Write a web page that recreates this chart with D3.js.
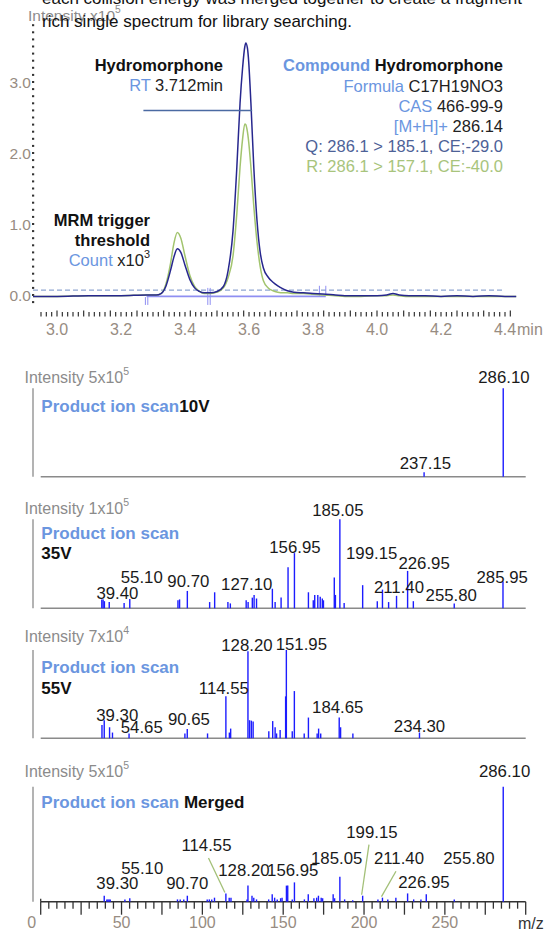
<!DOCTYPE html>
<html><head><meta charset="utf-8">
<script src="https://cdn.jsdelivr.net/npm/d3@7"></script>
<style>
html,body{margin:0;padding:0;background:#fff;}
svg{display:block;font-family:"Liberation Sans",Arial,Helvetica,sans-serif;}
</style></head><body>
<svg id="chart" width="546" height="930"></svg>
<script>
// ================= DATA =================
const introLines = [
  "each collision energy was merged together to create a fragment",
  "rich single spectrum for library searching."
];

// Chromatogram (retention time in min, intensity x10^5)
const chromTime = [2.925,3.0,3.1,3.2,3.28,3.31,3.325,3.34,3.355,3.365,3.376,3.387,3.40,3.415,3.43,3.445,3.46,3.48,3.50,3.52,3.535,3.55,3.562,3.572,3.58,3.587,3.59,3.595,3.598,3.606,3.615,3.625,3.635,3.645,3.66,3.675,3.69,3.705,3.72,3.74,3.77,3.80,3.83,3.87,3.90,3.95,4.00,4.03,4.05,4.07,4.10,4.15,4.20,4.25,4.30,4.35,4.40,4.435];
const chromQ = [-0.02,-0.02,-0.01,-0.01,0.0,0.0,0.02,0.12,0.35,0.53,0.65,0.60,0.42,0.22,0.10,0.05,0.03,0.03,0.05,0.12,0.35,0.90,1.80,2.70,3.20,3.50,3.55,3.48,3.35,2.70,1.80,1.05,0.60,0.38,0.25,0.18,0.13,0.09,0.06,0.04,0.03,0.02,0.015,0.0,-0.01,-0.01,-0.01,0.0,0.02,0.0,-0.01,-0.01,-0.02,-0.01,-0.02,-0.01,-0.02,-0.02];
const chromR = [-0.02,-0.02,-0.01,-0.01,0.0,0.0,0.02,0.15,0.45,0.72,0.88,0.80,0.55,0.28,0.12,0.05,0.02,0.02,0.04,0.10,0.25,0.55,1.15,1.80,2.20,2.41,2.40,2.30,2.20,1.80,1.25,0.75,0.40,0.20,0.10,0.06,0.04,0.03,0.03,0.02,0.02,0.01,0.0,-0.01,-0.02,-0.02,-0.01,-0.01,0.0,-0.01,-0.02,-0.02,-0.02,-0.02,-0.02,-0.02,-0.02,-0.02];
const chromYLabels = [0, 1, 2, 3];
const chromXLabels = [3.0, 3.2, 3.4, 3.6, 3.8, 4.0, 4.2, 4.4];
const thresholdValue = 0.07;
const integrationStart = 3.28, integrationEnd = 3.84;
const markerTimes = [3.28, 3.475, 3.82, 3.84];
const rtLine = [3.27, 3.61, 2.6];   // start time, end time, level

// Product ion spectra (m/z, relative intensity %)
const mz10V  = [237.15, 286.10];
const int10V = [5, 100];
const lab10V = [286.10, 237.15];

const mz35V  = [37.8,38.6,39.4,42.4,51.6,55.1,84.9,85.9,90.7,104.5,107.6,115.8,117.3,127.1,128.3,130.9,132.0,133.5,143.3,145.0,148.7,153.0,156.95,165.6,168.6,169.5,171.4,172.9,174.2,174.9,181.6,182.3,185.05,187.7,199.15,208.2,211.40,215.2,220.1,226.95,230.5,255.80,285.95];
const int35V = [10,10,8,7,6,10.5,9,10,19.5,7,18,7,5.5,9,7,12,15,11,22,7,12,46,62,18,9,15,15,13,11,9,34.5,15,100,6,26,8,21,7,14,42,8,5.5,30];
const lab35V = [39.40,55.10,90.70,127.10,156.95,185.05,199.15,211.40,226.95,255.80,285.95];

const mz55V  = [37.9,39.3,42.6,44.4,54.65,89.2,90.65,103.2,114.55,116.7,117.5,128.20,129.2,130.3,131.4,141.1,143.5,145.0,145.9,148.1,151.5,151.95,155.6,156.9,163.0,165.6,171.0,171.9,173.2,184.65,185.5,193.1,234.30];
const int55V = [15,20.5,12.5,6.5,5.5,5.5,10.5,5.5,47.5,6.5,11,98.5,20.5,20,19,8,19.5,12.5,5.5,9.5,47.5,100,8,53.5,5.5,23.5,5.5,11,5.5,23.5,12.5,5.5,6.5];
const lab55V = [128.20,151.95,114.55,39.30,54.65,90.65,184.65,234.30];

const mzMerged  = [39.30,40.9,41.6,42.3,43.0,52.1,55.10,84.6,86.3,88.5,90.70,103.0,104.3,105.8,107.5,114.55,116.6,117.7,127.6,128.20,130.7,131.8,133.5,141.0,143.2,144.7,146.3,148.4,149.3,152.0,152.8,155.6,156.95,163.1,165.5,169.0,170.7,171.8,173.5,174.4,180.9,181.8,185.05,188.0,193.0,199.15,208.6,211.40,214.7,219.7,226.95,230.7,235.2,238.5,255.80,286.10];
const intMerged = [5.2,2,2,2,2,2,3,2,2,2,5.2,2,2,2,3.5,7.2,3.5,3.5,2,14,5.2,3.5,2,2,6.4,3.5,2,3,3.5,14,14,2,16.8,2,6.4,3,3.5,5.2,3.5,3,6.4,3,21.7,2,1.2,5.2,2,3.5,2,3.5,7.2,2,2,6.4,2,100];
const labMerged = [286.10,199.15,114.55,185.05,211.40,255.80,55.10,128.20,156.95,39.30,90.70,226.95];
const leaderMerged = [114.55, 199.15, 211.40];
const mzAxisLabels = [0, 50, 100, 150, 200, 250];

// ================= LAYOUT (pixels) =================
const FONT = '"Liberation Sans", Arial, Helvetica, sans-serif';
const LB = "#6b96df";
const TICKTXT = "#978c82";
const GRAYTXT = "#8b8b8b";
const BAR = "#1c1cff";

const panels = [
  {mz: mz10V, val: int10V, labels: lab10V, base: 476.7, top: 388.3, intTxt: ["Intensity 5x10","5"], intY: 377.3,
   title: [["Product ion scan", LB], ["10V", "#111"]], titleY: 406, volt: null,
   layout: [[0.7,99.4],[1.3,13.4]]},
  {mz: mz35V, val: int35V, labels: lab35V, base: 608.3, top: 519.3, intTxt: ["Intensity 1x10","5"], intY: 508.3,
   title: [["Product ion scan", LB]], titleY: 533.3, volt: "35V", voltY: 553.3,
   layout: [[13,15],[12,31],[1,27.6],[0.6,24.3],[0.5,61.6],[-2,98.3],[9,55],[16.5,21.6],[16.5,45],[-3,13.3],[-0.8,31]]},
  {mz: mz55V, val: int55V, labels: lab55V, base: 738.3, top: 650, intTxt: ["Intensity 7x10","4"], intY: 636,
   title: [["Product ion scan", LB]], titleY: 666.7, volt: "55V", voltY: 688.3,
   layout: [[-1,93.3],[15,94.3],[-2,50],[13,23.3],[12.7,11],[1.7,19],[-1.5,31],[0,12.3]]},
  {mz: mzMerged, val: intMerged, labels: labMerged, base: 901.7, top: 786.7, intTxt: ["Intensity 5x10","5"], intY: 770.7,
   title: [["Product ion scan ", LB], ["Merged", "#111"]], titleY: 801.7, volt: null, leaders: leaderMerged,
   layout: [[1.4,131],[9.3,70],[-19.4,56.7],[-3.2,43.4],[16.5,43.4],[14.7,43.4],[12.5,33.4],[-4,31.7],[-1.7,31.7],[13.1,18.4],[-0.1,18.4],[16.3,20]]}
];

// ================= DRAW =================
const svg = d3.select("#chart");

function txt(g, x, y, segs, o) {
  o = o || {};
  const t = g.append("text").attr("x", x).attr("y", y)
    .attr("dominant-baseline", "central")
    .attr("text-anchor", o.anchor || "start")
    .attr("font-family", FONT)
    .attr("font-size", o.size || 16)
    .attr("font-weight", o.weight || "normal");
  segs.forEach(s => {
    const sp = t.append("tspan").text(s.t).attr("fill", s.fill || "#111");
    if (s.weight) sp.attr("font-weight", s.weight);
    if (s.sup) sp.attr("font-size", (o.size || 16) * 0.66).attr("dy", -6);
  });
  return t;
}

// --- chromatogram ---
const cx = d3.scaleLinear().domain([2.925, 4.4]).range([33, 505]);
const cy = d3.scaleLinear().domain([0, 3]).range([295, 82]);
const chrom = svg.append("g");

txt(chrom, 28, 15, [{t: "Intensity x10", fill: GRAYTXT}, {t: "5", fill: GRAYTXT, sup: true}], {size: 15.5});

// y ticks (dotted axis)
chrom.selectAll(".yt").data(d3.range(-1, 39).map(i => i / 10)).join("rect")
  .attr("x", 32).attr("y", d => cy(d) - 1).attr("width", 2.2).attr("height", 2).attr("fill", "#333");
chrom.selectAll(".yl").data(chromYLabels).join("text")
  .attr("x", 31).attr("y", d => cy(d)).attr("text-anchor", "end").attr("dominant-baseline", "central")
  .attr("font-family", FONT).attr("font-size", 15.5).attr("fill", TICKTXT).text(d => d3.format(".1f")(d));

// x ticks (every second)
const secTicks = d3.range(177, 266);
chrom.selectAll(".xt").data(secTicks).join("line")
  .attr("x1", d => cx(d / 60)).attr("x2", d => cx(d / 60))
  .attr("y1", d => d % 5 === 0 ? 310.5 : 312).attr("y2", 316.5)
  .attr("stroke", "#333").attr("stroke-width", 1.2);
chrom.selectAll(".xl").data(chromXLabels).join("text")
  .attr("x", d => cx(d)).attr("y", 329).attr("text-anchor", "middle").attr("dominant-baseline", "central")
  .attr("font-family", FONT).attr("font-size", 16).attr("fill", TICKTXT).text(d => d3.format(".1f")(d));
chrom.append("text").attr("x", cx(4.4) + 12).attr("y", 329).attr("dominant-baseline", "central")
  .attr("font-family", FONT).attr("font-size", 16).attr("fill", TICKTXT).text("min");

// threshold dashed line
chrom.append("line").attr("x1", cx(2.925)).attr("x2", cx(4.4))
  .attr("y1", cy(thresholdValue)).attr("y2", cy(thresholdValue))
  .attr("stroke", "#8fa6d2").attr("stroke-width", 1.3).attr("stroke-dasharray", "5,3");

// integration baseline and markers
chrom.append("line").attr("x1", cx(integrationStart)).attr("x2", cx(integrationEnd))
  .attr("y1", cy(-0.02)).attr("y2", cy(-0.02)).attr("stroke", "#8f8ff2").attr("stroke-width", 1.6);
markerTimes.forEach((t, i) => {
  const hi = i < 2 ? (i === 0 ? -0.03 : 0.1) : 0.13, lo = i < 2 ? -0.14 : -0.01;
  const offs = i < 2 ? [-1.2, 1.2] : [0];
  offs.forEach(o => chrom.append("line").attr("x1", cx(t) + o).attr("x2", cx(t) + o)
    .attr("y1", cy(hi)).attr("y2", cy(lo)).attr("stroke", "#8f8ff2").attr("stroke-width", 1));
});

// traces
const lineGen = vals => d3.line().x((d, i) => cx(chromTime[i])).y(d => cy(d)).curve(d3.curveMonotoneX)(vals);
chrom.append("path").attr("d", lineGen(chromR)).attr("fill", "none").attr("stroke", "#a2c46e").attr("stroke-width", 1.5);
chrom.append("path").attr("d", lineGen(chromQ)).attr("fill", "none").attr("stroke", "#27278e").attr("stroke-width", 1.5);

// RT line
chrom.append("line").attr("x1", cx(rtLine[0])).attr("x2", cx(rtLine[1]))
  .attr("y1", cy(rtLine[2])).attr("y2", cy(rtLine[2])).attr("stroke", "#4b6aa2").attr("stroke-width", 1.5);

// annotations
txt(chrom, 223, 65, [{t: "Hydromorphone", fill: "#111"}], {anchor: "end", size: 16.5, weight: "bold"});
txt(chrom, 223, 85, [{t: "RT ", fill: LB}, {t: "3.712min", fill: "#222"}], {anchor: "end", size: 16.5});
txt(chrom, 150, 220, [{t: "MRM trigger", fill: "#111"}], {anchor: "end", size: 16.5, weight: "bold"});
txt(chrom, 150, 240, [{t: "threshold", fill: "#111"}], {anchor: "end", size: 16.5, weight: "bold"});
txt(chrom, 150, 260, [{t: "Count ", fill: LB}, {t: "x10", fill: "#222"}, {t: "3", fill: "#222", sup: true}], {anchor: "end", size: 16.5});

const RX = 503;
txt(chrom, RX, 65, [{t: "Compound ", fill: LB}, {t: "Hydromorphone", fill: "#111"}], {anchor: "end", size: 16.5, weight: "bold"});
txt(chrom, RX, 85.5, [{t: "Formula ", fill: LB}, {t: "C17H19NO3", fill: "#222"}], {anchor: "end", size: 16.5});
txt(chrom, RX, 106, [{t: "CAS ", fill: LB}, {t: "466-99-9", fill: "#222"}], {anchor: "end", size: 16.5});
txt(chrom, RX, 126, [{t: "[M+H]+ ", fill: LB}, {t: "286.14", fill: "#222"}], {anchor: "end", size: 16.5});
txt(chrom, RX, 146, [{t: "Q: 286.1 > 185.1, CE;-29.0", fill: "#4d6197"}], {anchor: "end", size: 16.5});
txt(chrom, RX, 166, [{t: "R: 286.1 > 157.1, CE:-40.0", fill: "#a8c47c"}], {anchor: "end", size: 16.5});

// intro text (drawn over the intensity label)
introLines.forEach((l, i) => {
  svg.append("text").attr("x", 42).attr("y", 4 + i * 23).attr("font-family", FONT)
    .attr("font-size", 17).attr("fill", "#111").text(l);
});

// --- spectra ---
const sx = d3.scaleLinear().domain([0, 300]).range([40.7, 525.7]);
panels.forEach((p, pi) => {
  const g = svg.append("g");
  const sy = d3.scaleLinear().domain([0, 100]).range([p.base, p.top]);
  const isLast = pi === panels.length - 1;

  txt(g, 24.5, p.intY, [{t: p.intTxt[0], fill: GRAYTXT}, {t: p.intTxt[1], fill: GRAYTXT, sup: true}], {size: 16});
  g.append("line").attr("x1", 33).attr("x2", 33).attr("y1", p.top).attr("y2", p.base)
    .attr("stroke", "#9a9a9a").attr("stroke-width", 1.5);
  g.append("line").attr("x1", sx(0)).attr("x2", sx(300)).attr("y1", p.base).attr("y2", p.base)
    .attr("stroke", isLast ? "#333" : "#8a8a8a").attr("stroke-width", 1.5);

  g.selectAll(".bar").data(p.mz).join("line")
    .attr("x1", d => sx(d)).attr("x2", d => sx(d))
    .attr("y1", p.base).attr("y2", (d, i) => sy(p.val[i]))
    .attr("stroke", BAR).attr("stroke-width", 1.4);

  txt(g, 41.3, p.titleY, p.title.map(s => ({t: s[0], fill: s[1]})), {size: 17, weight: "bold"});
  if (p.volt) txt(g, 41.3, p.voltY, [{t: p.volt, fill: "#111"}], {size: 17, weight: "bold"});

  p.labels.forEach((m, i) => {
    const lx = sx(m) + p.layout[i][0], ly = p.base - p.layout[i][1];
    txt(g, lx, ly, [{t: d3.format(".2f")(m), fill: "#1a1a1a"}], {anchor: "middle", size: 16.8});
    if (p.leaders && p.leaders.includes(m)) {
      const k = p.mz.indexOf(m);
      const px = sx(m), pyTop = sy(p.val[k]);
      const sxStart = lx + (px < lx ? -3 : 2);
      g.append("line").attr("x1", sxStart).attr("y1", ly + 13)
        .attr("x2", px - 1).attr("y2", pyTop - 1)
        .attr("stroke", "#a3c078").attr("stroke-width", 1.3);
    }
  });

  if (isLast) {
    const ticks = d3.range(0, 301, 5);
    g.selectAll(".mt").data(ticks).join("line")
      .attr("x1", d => sx(d)).attr("x2", d => sx(d))
      .attr("y1", p.base).attr("y2", d => p.base + (d % 25 === 0 ? 13 : 7))
      .attr("stroke", "#333").attr("stroke-width", 1.3);
    g.append("line").attr("x1", sx(0)).attr("x2", sx(0)).attr("y1", p.base - 3).attr("y2", p.base)
      .attr("stroke", "#333").attr("stroke-width", 1.3);
    g.selectAll(".ml").data(mzAxisLabels).join("text")
      .attr("x", d => sx(d) + (d === 0 ? -9 : 0)).attr("y", 922.7)
      .attr("text-anchor", "middle").attr("dominant-baseline", "central")
      .attr("font-family", FONT).attr("font-size", 16).attr("fill", TICKTXT).text(d => d);
    g.append("text").attr("x", 518).attr("y", 923).attr("dominant-baseline", "central")
      .attr("font-family", FONT).attr("font-size", 16).attr("fill", "#333").text("m/z");
  }
});
</script>
</body></html>
